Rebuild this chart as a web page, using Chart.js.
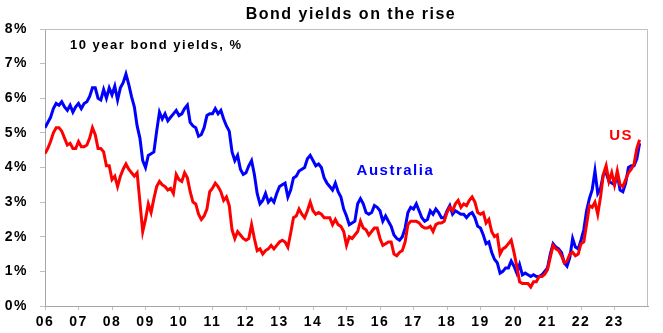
<!DOCTYPE html>
<html><head><meta charset="utf-8">
<script src="https://cdn.jsdelivr.net/npm/chart.js@4/dist/chart.umd.min.js"></script>
<style>html,body{margin:0;padding:0;background:#fff;}canvas{display:block;}</style>
</head><body>
<canvas id="c" width="663" height="333"></canvas>
<script>
const startYear = 2006;
const yearLabels = ['06','07','08','09','10','11','12','13','14','15','16','17','18','19','20','21','22','23'];
const titleText = 'Bond yields on the rise';
const subtitleText = '10 year bond yields, %';
const seriesNames = ['Australia', 'US'];

// monthly 10-year yields, Jan 2006 .. Oct 2023 (%)
const australia = [
  5.15,5.30,5.45,5.70,5.85,5.80,5.90,5.75,5.65,5.80,5.60,5.75,
  5.85,5.70,5.85,5.90,6.05,6.30,6.30,6.00,5.95,6.25,6.00,6.30,
  6.10,6.35,5.95,6.30,6.45,6.70,6.40,6.05,5.75,5.20,4.85,4.20,
  4.00,4.35,4.40,4.45,5.05,5.60,5.40,5.55,5.35,5.45,5.55,5.65,
  5.50,5.55,5.70,5.80,5.30,5.20,5.15,4.90,4.95,5.15,5.50,5.55,
  5.55,5.70,5.55,5.65,5.40,5.20,5.05,4.45,4.20,4.35,3.95,3.80,
  3.85,4.05,4.20,3.80,3.25,2.95,3.05,3.25,3.00,3.10,3.00,3.25,
  3.45,3.50,3.55,3.15,3.35,3.70,3.75,3.90,3.95,4.00,4.25,4.35,
  4.20,4.05,4.10,4.00,3.70,3.55,3.45,3.35,3.55,3.30,3.15,2.80,
  2.60,2.35,2.40,2.45,2.95,3.10,2.95,2.70,2.65,2.70,2.90,2.85,
  2.75,2.45,2.60,2.45,2.30,2.05,1.95,1.90,2.00,2.25,2.70,2.85,
  2.80,2.95,2.75,2.55,2.45,2.50,2.75,2.65,2.80,2.70,2.55,2.55,
  2.75,2.90,2.65,2.75,2.70,2.65,2.65,2.55,2.65,2.70,2.55,2.30,
  2.25,2.05,1.80,1.85,1.55,1.35,1.25,0.95,1.00,1.10,1.10,1.30,
  1.15,0.95,1.20,0.90,0.95,0.90,0.85,0.90,0.85,0.85,0.90,1.00,
  1.10,1.50,1.80,1.70,1.65,1.55,1.25,1.15,1.40,1.95,1.70,1.65,
  1.90,2.20,2.75,3.10,3.35,3.90,3.25,3.40,3.80,3.85,3.60,3.55,
  3.50,3.80,3.35,3.30,3.55,4.00,4.05,4.05,4.25,4.70
];
const us = [
  4.40,4.55,4.75,5.00,5.15,5.15,5.05,4.85,4.65,4.70,4.55,4.55,
  4.75,4.60,4.60,4.65,4.85,5.15,4.95,4.55,4.55,4.45,4.05,4.05,
  3.65,3.75,3.45,3.75,3.95,4.10,3.95,3.85,3.75,3.85,3.00,2.15,
  2.50,2.95,2.70,3.10,3.45,3.60,3.50,3.45,3.35,3.40,3.25,3.80,
  3.65,3.60,3.85,3.70,3.30,3.00,2.95,2.65,2.50,2.60,2.80,3.30,
  3.40,3.55,3.45,3.30,3.05,3.15,2.90,2.20,1.95,2.15,2.05,1.95,
  1.90,1.95,2.35,1.95,1.60,1.65,1.50,1.60,1.65,1.75,1.65,1.75,
  1.85,1.90,1.85,1.70,2.10,2.55,2.60,2.80,2.65,2.55,2.75,3.00,
  2.75,2.65,2.70,2.65,2.55,2.55,2.55,2.35,2.50,2.35,2.30,2.15,
  1.75,2.00,1.95,2.05,2.15,2.45,2.25,2.20,2.05,2.15,2.25,2.25,
  1.95,1.75,1.80,1.85,1.85,1.50,1.45,1.55,1.60,1.85,2.35,2.45,
  2.45,2.45,2.40,2.30,2.25,2.25,2.30,2.15,2.35,2.40,2.40,2.45,
  2.70,2.85,2.75,2.95,3.05,2.85,2.95,2.90,3.05,3.15,3.00,2.70,
  2.65,2.70,2.40,2.50,2.15,2.00,2.05,1.50,1.65,1.70,1.80,1.90,
  1.55,1.15,0.70,0.65,0.65,0.65,0.55,0.70,0.70,0.85,0.85,0.92,
  1.05,1.40,1.75,1.65,1.60,1.45,1.25,1.30,1.50,1.55,1.45,1.50,
  1.80,1.85,2.35,2.90,2.85,3.00,2.65,3.15,3.80,4.05,3.60,3.85,
  3.50,3.90,3.50,3.45,3.65,3.85,3.95,4.10,4.55,4.80
];

const FONT = "'Liberation Sans', Arial, sans-serif";
const toPoints = vals => vals.map((v, i) => ({ x: startYear + i / 12, y: v }));

const decor = {
  id: 'decor',
  beforeDraw(chart) { chart.ctx.letterSpacing = '1.5px'; },
  afterDatasetsDraw(chart) {
    const { ctx, chartArea: a, scales } = chart;
    const xs = scales.x, ys = scales.y;
    ctx.save();
    ctx.letterSpacing = '1.5px';
    ctx.strokeStyle = '#C0C0C0';
    ctx.lineWidth = 1;
    ctx.beginPath();
    ctx.moveTo(a.left, a.top + 0.5);
    ctx.lineTo(a.right - 0.5, a.top + 0.5);
    ctx.lineTo(a.right - 0.5, a.bottom);
    ctx.stroke();
    ctx.fillStyle = '#000';
    ctx.textBaseline = 'middle';
    ctx.textAlign = 'center';
    ctx.font = 'bold 16px ' + FONT;
    ctx.fillText(titleText, 351, 15);
    ctx.textAlign = 'left';
    ctx.font = 'bold 13px ' + FONT;
    ctx.fillText(subtitleText, 70, 45);
    ctx.textAlign = 'center';
    ctx.font = 'bold 15px ' + FONT;
    ctx.fillStyle = '#0000FF';
    ctx.fillText(seriesNames[0], xs.getPixelForValue(2016.46), ys.getPixelForValue(3.9));
    ctx.fillStyle = '#FF0000';
    ctx.fillText(seriesNames[1], xs.getPixelForValue(2023.2), ys.getPixelForValue(4.91));
    ctx.restore();
  }
};

new Chart(document.getElementById('c'), {
  type: 'line',
  data: {
    datasets: [
      { label: seriesNames[0], data: toPoints(australia), borderColor: '#0000FF', borderWidth: 3, pointRadius: 0, tension: 0, order: 1 },
      { label: seriesNames[1], data: toPoints(us), borderColor: '#FF0000', borderWidth: 3, pointRadius: 0, tension: 0, order: 0 }
    ]
  },
  options: {
    responsive: false,
    animation: false,
    layout: { padding: { top: 29, right: 15, bottom: 0, left: 0 } },
    plugins: { legend: { display: false }, tooltip: { enabled: false }, title: { display: false } },
    scales: {
      x: {
        type: 'linear', min: 2006, max: 2024,
        afterFit: s => { s.height = 27; },
        ticks: {
          stepSize: 1, autoSkip: false, maxRotation: 0, padding: 4,
          color: '#000', font: { family: FONT, size: 14, weight: 'bold' },
          callback: v => { const i = Math.round(v) - startYear; return (i >= 0 && i < yearLabels.length) ? yearLabels[i] : null; }
        },
        grid: { drawOnChartArea: false, drawTicks: true, tickLength: 4, color: '#BFBFBF' },
        border: { color: '#A6A6A6' }
      },
      y: {
        min: 0, max: 8,
        afterFit: s => { s.width = 45; },
        ticks: {
          stepSize: 1, padding: 12,
          color: '#000', font: { family: FONT, size: 14, weight: 'bold' },
          callback: v => v + '%'
        },
        grid: { drawOnChartArea: false, drawTicks: true, tickLength: 5, color: '#BFBFBF' },
        border: { color: '#A6A6A6' }
      }
    }
  },
  plugins: [decor]
});
</script>
</body></html>
